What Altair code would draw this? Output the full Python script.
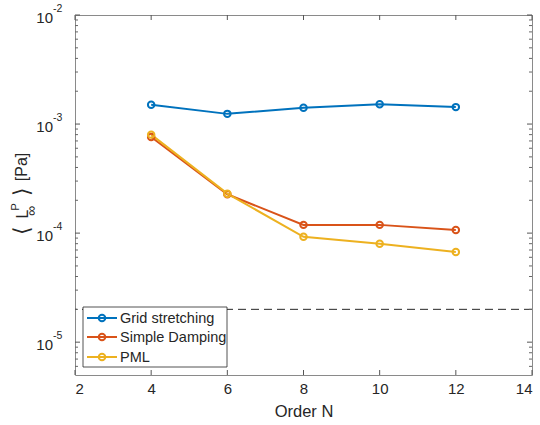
import altair as alt
import pandas as pd

# ---- data ----
orders = [4, 6, 8, 10, 12]
series_names = ["Grid stretching", "Simple Damping", "PML"]
grid_stretching = [1.50e-3, 1.24e-3, 1.41e-3, 1.52e-3, 1.43e-3]
simple_damping = [7.6e-4, 2.27e-4, 1.19e-4, 1.19e-4, 1.07e-4]
pml = [8.0e-4, 2.30e-4, 9.25e-5, 8.0e-5, 6.7e-5]
threshold = [2e-5]
colors = ["#0072BD", "#D95319", "#EDB120"]

x_ticks = [2, 4, 6, 8, 10, 12, 14]
y_decades = [1e-5, 1e-4, 1e-3, 1e-2]
y_exponents = ["-5", "-4", "-3", "-2"]
y_minor = [k * 10.0 ** d for d in range(-6, -2) for k in range(2, 10) if k * 10.0 ** d >= 5e-6]

FONT = "Liberation Sans"
TXT = "#262626"
W, H = 457, 360

rows = []
for name, vals in zip(series_names, [grid_stretching, simple_damping, pml]):
    for o, v in zip(orders, vals):
        rows.append({"series": name, "order": o, "value": v})
df = pd.DataFrame(rows)

xs = alt.Scale(domain=[2, 14], nice=False, zero=False)
ys = alt.Scale(type="log", domain=[5e-6, 1e-2], nice=False)
cs = alt.Scale(domain=series_names, range=colors)

base = alt.Chart(df)
lines = base.mark_line(strokeWidth=2).encode(
    x=alt.X("order:Q", scale=xs,
            axis=alt.Axis(values=x_ticks, ticks=False, domain=False, grid=False,
                          labelFontSize=15, labelFont=FONT, labelColor=TXT, labelPadding=6,
                          title="Order N", titleFont=FONT, titleFontSize=16.5,
                          titleFontWeight="normal", titleColor=TXT, titlePadding=7)),
    y=alt.Y("value:Q", scale=ys, axis=None),
    color=alt.Color("series:N", scale=cs, legend=None),
    detail="series:N",
)
points = base.mark_point(shape="circle", filled=False, size=42, strokeWidth=2, opacity=1).encode(
    x=alt.X("order:Q", scale=xs),
    y=alt.Y("value:Q", scale=ys),
    color=alt.Color("series:N", scale=cs, legend=None),
)

thr = alt.Chart(pd.DataFrame({"t": threshold})).mark_rule(
    color="#262626", strokeWidth=1, strokeDash=[8, 5]
).encode(y=alt.Y("t:Q", scale=ys))

# ---- inner ticks (MATLAB style) ----
xt = alt.Chart(pd.DataFrame({"v": x_ticks}))
ticks_x_bottom = xt.mark_rule(color="#555", strokeWidth=1).encode(
    x=alt.X("v:Q", scale=xs), y=alt.value(H), y2=alt.value(H - 5))
ticks_x_top = xt.mark_rule(color="#555", strokeWidth=1).encode(
    x=alt.X("v:Q", scale=xs), y=alt.value(0), y2=alt.value(5))
yt = alt.Chart(pd.DataFrame({"v": y_decades}))
ticks_y_left = yt.mark_rule(color="#555", strokeWidth=1).encode(
    y=alt.Y("v:Q", scale=ys), x=alt.value(0), x2=alt.value(5))
ticks_y_right = yt.mark_rule(color="#555", strokeWidth=1).encode(
    y=alt.Y("v:Q", scale=ys), x=alt.value(W), x2=alt.value(W - 5))
ym = alt.Chart(pd.DataFrame({"v": y_minor}))
minor_left = ym.mark_rule(color="#666", strokeWidth=1).encode(
    y=alt.Y("v:Q", scale=ys), x=alt.value(0), x2=alt.value(3))
minor_right = ym.mark_rule(color="#666", strokeWidth=1).encode(
    y=alt.Y("v:Q", scale=ys), x=alt.value(W), x2=alt.value(W - 3))

# ---- y tick labels 10^k ----
ylab_df = pd.DataFrame({"v": y_decades, "e": y_exponents})
ylab_base = alt.Chart(ylab_df).mark_text(
    text="10", align="right", baseline="middle", font=FONT, fontSize=15, color=TXT, dy=3
).encode(y=alt.Y("v:Q", scale=ys), x=alt.value(-22))
ylab_exp = alt.Chart(ylab_df).mark_text(
    align="left", baseline="middle", font=FONT, fontSize=10.5, color=TXT, dy=-6
).encode(y=alt.Y("v:Q", scale=ys), x=alt.value(-22), text="e:N")

# ---- y title pieces (rotated) ----
def rot(txt, x, y, size):
    return alt.Chart(pd.DataFrame({"t": [txt]})).mark_text(
        angle=270, align="center", baseline="middle", font=FONT, fontSize=size, color=TXT
    ).encode(text="t:N", x=alt.value(x), y=alt.value(y))

title_parts = [
    rot("[Pa]", -53, 152, 16),
    rot("\u27e9", -53, 176, 22),
    rot("P", -59, 192, 11.5),
    rot("\u221e", -43, 196, 14),
    rot("L", -52, 199, 16),
    rot("\u27e8", -53, 215, 22),
]

# ---- legend box ----
lx0, lx1, ly0, ly1 = 8, 152, 292, 352
row_y = [303, 322, 342]
legend_layers = [
    alt.Chart(pd.DataFrame({"a": [0]})).mark_rect(
        fill="white", stroke="#262626", strokeWidth=0.8
    ).encode(x=alt.value(lx0), x2=alt.value(lx1), y=alt.value(ly0), y2=alt.value(ly1))
]
for name, col, ry in zip(series_names, colors, row_y):
    d = pd.DataFrame({"s": [name]})
    legend_layers.append(alt.Chart(d).mark_rule(color=col, strokeWidth=2).encode(
        x=alt.value(12), x2=alt.value(42), y=alt.value(ry)))
    legend_layers.append(alt.Chart(d).mark_point(
        shape="circle", filled=False, size=42, strokeWidth=2, color=col, opacity=1
    ).encode(x=alt.value(27), y=alt.value(ry)))
    legend_layers.append(alt.Chart(d).mark_text(
        align="left", baseline="middle", font=FONT, fontSize=14.5, color=TXT
    ).encode(text="s:N", x=alt.value(45), y=alt.value(ry + 1)))

chart = alt.layer(
    lines, points, thr,
    ticks_x_bottom, ticks_x_top, ticks_y_left, ticks_y_right, minor_left, minor_right,
    ylab_base, ylab_exp, *title_parts, *legend_layers
).properties(
    width=W, height=H,
    autosize=alt.AutoSizeParams(type="none"),
    padding={"left": 75, "top": 15, "right": 8, "bottom": 50},
    background="white",
).configure_view(stroke="#8a8a8a", strokeWidth=1)

chart.save("out.html", embed_options={"renderer": "svg", "actions": False})
